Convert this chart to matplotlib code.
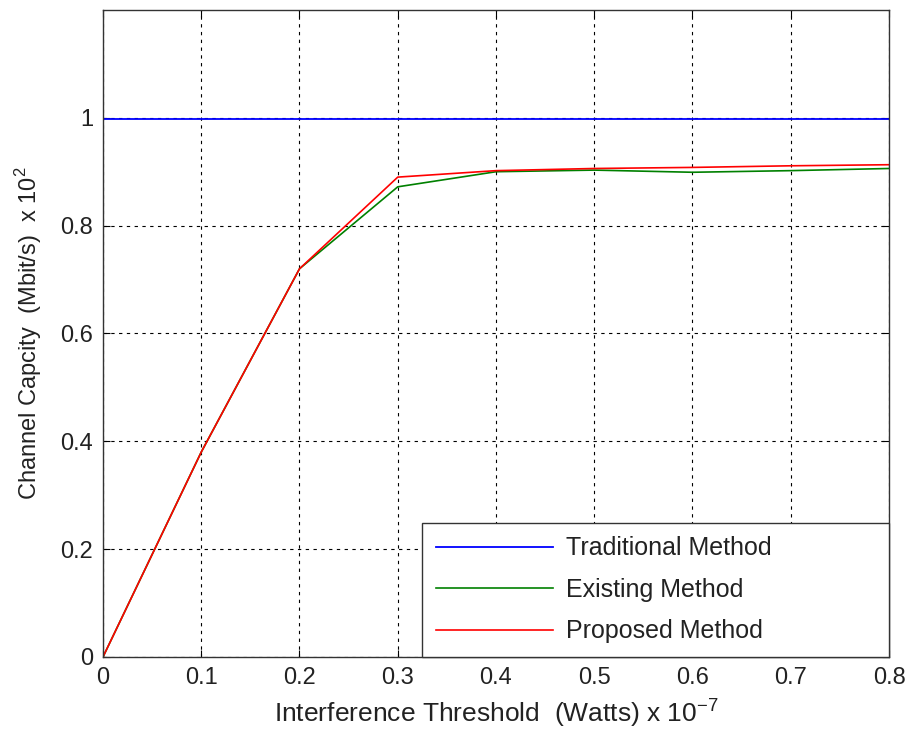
import matplotlib
matplotlib.use("Agg")
import matplotlib.pyplot as plt

x = [0, 0.1, 0.2, 0.3, 0.4, 0.5, 0.6, 0.7, 0.8]
traditional = [0.997] * 9
existing = [0, 0.38, 0.72, 0.872, 0.900, 0.903, 0.899, 0.902, 0.906]
proposed = [0, 0.38, 0.72, 0.890, 0.902, 0.906, 0.908, 0.911, 0.913]
labels = ["Traditional Method", "Existing Method", "Proposed Method"]
xticks = [0, 0.1, 0.2, 0.3, 0.4, 0.5, 0.6, 0.7, 0.8]
yticks = [0, 0.2, 0.4, 0.6, 0.8, 1.0]

plt.rcParams['font.family'] = ['Liberation Sans', 'DejaVu Sans']
fig = plt.figure(figsize=(9.09, 7.33), dpi=100)
ax = fig.add_axes([0.1133, 0.1037, 0.8647, 0.8827])

ax.plot(x, traditional, color='#0000ff', lw=1.3, label=labels[0])
ax.plot(x, existing, color='#008000', lw=1.2, label=labels[1])
ax.plot(x, proposed, color='#ff0000', lw=1.2, label=labels[2])

ax.set_xlim(0, 0.8)
ax.set_ylim(0, 1.2)
ax.set_xticks(xticks)
ax.set_xticklabels([f"{v:g}" for v in xticks])
ax.set_yticks(yticks)
ax.set_yticklabels([f"{v:g}" for v in yticks])
ax.tick_params(direction='in', top=True, right=True, labelsize=17, length=5, pad=7,
               labelcolor='#222222')
ax.grid(True, color='black', linestyle=(0, (3, 4)), linewidth=0.8)
for s in ax.spines.values():
    s.set_linewidth(1.0)
    s.set_color('#333333')

ax.set_xlabel(r"Interference Threshold  (Watts) x 10$^{\mathregular{-7}}$", fontsize=19,
              labelpad=5, color='#222222')
ax.set_ylabel(r"Channel Capcity  (Mbit/s)  x 10$^{\mathregular{2}}$", fontsize=17,
              labelpad=12, color='#222222')

leg = ax.legend(loc='lower left', bbox_to_anchor=(0.4059, 0.0, 0.5941, 0.207),
                mode='expand', borderaxespad=0, fontsize=18, fancybox=False,
                framealpha=1, edgecolor='#333333', handlelength=4.7, handletextpad=0.5,
                borderpad=0.54, labelspacing=0.70)
leg.get_frame().set_linewidth(1.0)
for t in leg.get_texts():
    t.set_color('#222222')

fig.savefig("out.png", dpi=100)
